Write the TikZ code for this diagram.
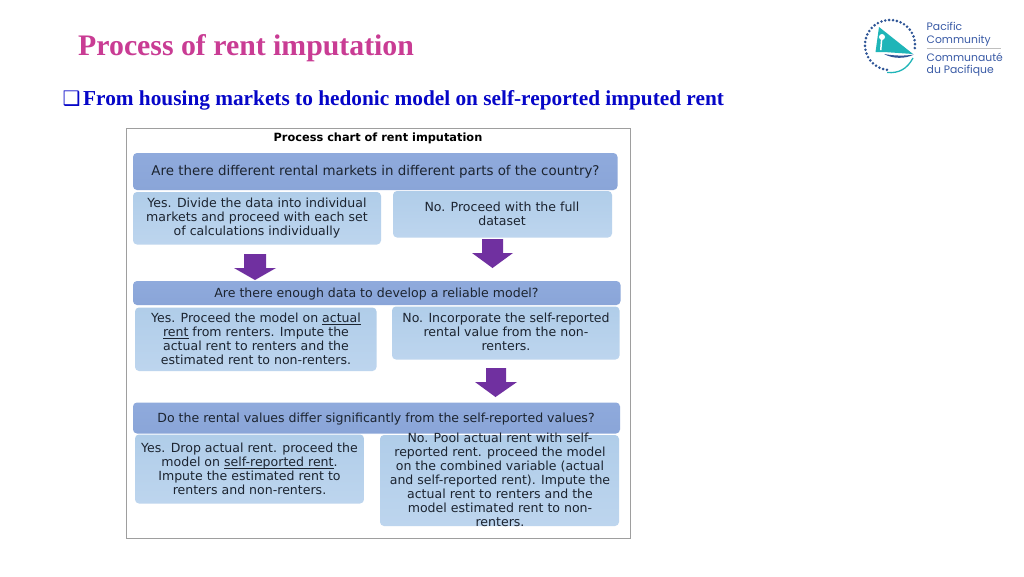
\documentclass[tikz,border=0pt]{standalone}
\usepackage{fontspec}
\setmainfont{DejaVu Sans}
\newfontfamily\serifb[BoldFont={Liberation Serif Bold}]{Liberation Serif}
\newfontfamily\dejav{DejaVu Sans}
\newfontfamily\logofont{Poppins}
\usetikzlibrary{calc}
\definecolor{qtop}{HTML}{8FAADC}
\definecolor{qbot}{HTML}{8AA5D8}
\definecolor{atop}{HTML}{B0CDE9}
\definecolor{abot}{HTML}{BDD5EE}
\definecolor{txt}{HTML}{1C2430}
\definecolor{purp}{HTML}{7030A0}
\definecolor{ttl}{HTML}{C93C94}
\definecolor{subt}{HTML}{0606C8}
\definecolor{teal1}{HTML}{1FB5B8}
\definecolor{navy1}{HTML}{2F5597}
\definecolor{logot}{HTML}{3A5BA6}
\tikzset{
  x=1pt,y=-1pt,
  box/.style={rounded corners=4pt,inner sep=0pt},
  qbox/.style={box,top color=qtop,bottom color=qbot},
  abox/.style={box,top color=atop,bottom color=abot},
  lab/.style={font=\fontsize{12.55}{14}\selectfont,text=txt,align=center,inner sep=0pt},
  qlab/.style={font=\fontsize{12.55}{14}\selectfont,text=txt,align=center,inner sep=0pt},
  blockarrow/.style={fill=purp,draw=none},
}
\newcommand{\blockar}[8]{% shaftL shaftR shaftTop headY headL headR tipX tipY
  \path[blockarrow] (#1,#3) -- (#2,#3) -- (#2,#4) -- (#6,#4) -- (#7,#8) -- (#5,#4) -- (#1,#4) -- cycle;}
\newlength{\ulwd}
\newcommand{\ul}[1]{\settowidth{\ulwd}{#1}\leavevmode\rlap{\rule[-2.2pt]{\ulwd}{0.7pt}}#1}
\begin{document}
\begin{tikzpicture}
\useasboundingbox (0,0) rectangle (1024,576);
\fill[white] (0,0) rectangle (1024,576);
% headings
\node[anchor=base west,inner sep=0pt,text=ttl,font=\serifb\bfseries\fontsize{29.8}{32}\selectfont] (title) at (78,55) {Process of rent imputation};
\node[anchor=base west,inner sep=0pt,text=subt,font=\dejav\bfseries\fontsize{20}{20}\selectfont] (bul) at (62.5,105) {❑};
\node[anchor=base west,inner sep=0pt,text=subt,font=\serifb\bfseries\fontsize{21.3}{24}\selectfont] (sub) at (83,105) {From housing markets to hedonic model on self-reported imputed rent};
% frame
\draw[draw=black!38,line width=0.9pt,fill=white] (126.5,128) rectangle (630,538);
\node[anchor=base,inner sep=0pt,font=\bfseries\fontsize{11.35}{13}\selectfont,text=black] (chart) at (378,141) {Process chart of rent imputation};
% boxes
\path[qbox] (133,153) rectangle (617.5,190);
\node[qlab,font=\fontsize{13.4}{14}\selectfont] (q1) at (375.5,172) {Are there different rental markets in different parts of the country?};
\path[abox] (133,192) rectangle (381,244.5);
\node[lab] (y1) at (257,218) {Yes. Divide the data into individual\\markets and proceed with each set\\of calculations individually};
\path[abox] (393,191) rectangle (612,237.5);
\node[lab] (n1) at (502,213.5) {No. Proceed with the full\\dataset};
\blockar{244}{266}{254}{268}{234}{276}{255}{280}
\blockar{482}{503}{239}{253}{472}{513}{492.5}{268}
\path[qbox] (133,281) rectangle (620.5,305);
\node[qlab] (q2) at (376.5,294) {Are there enough data to develop a reliable model?};
\path[abox] (135,307.5) rectangle (376.5,371);
\node[lab] (y2) at (256,339) {Yes. Proceed the model on \ul{actual}\\\ul{rent} from renters. Impute the\\actual rent to renters and the\\estimated rent to non-renters.};
\path[abox] (392,306.5) rectangle (619.5,359.5);
\node[lab] (n2) at (506,332) {No. Incorporate the self-reported\\rental value from the non-\\renters.};
\blockar{486}{506}{368}{382}{475}{517}{495.5}{397}
\path[qbox] (133,402.5) rectangle (620,433.5);
\node[qlab] (q3) at (376,419) {Do the rental values differ significantly from the self-reported values?};
\path[abox] (135,434.5) rectangle (364,503.5);
\node[lab] (y3) at (249.5,469) {Yes. Drop actual rent. proceed the\\model on \ul{self-reported rent}.\\Impute the estimated rent to\\renters and non-renters.};
\path[abox] (380,435) rectangle (619,526);
\node[lab] (n3) at (500,480) {No. Pool actual rent with self-\\reported rent. proceed the model\\on the combined variable (actual\\and self-reported rent). Impute the\\actual rent to renters and the\\model estimated rent to non-\\renters.};
% logo
\foreach \a in {-7,2,...,265}{
  \fill[navy1] ({890+25*cos(\a)},{45-25*sin(\a)}) circle (1.45);
}
\fill[teal1] (879,27) -- (913,54) -- (884,52) -- (875.5,52) -- cycle;
\fill[white] (881,38) -- (880,50) -- (881.5,50) -- (882.5,38) -- cycle;
\fill[white] (882,37) circle (3);
\fill[navy1] (884,54) .. controls (895,56) and (905,56) .. (914,54.5) .. controls (905,59) and (893,59) .. (884,54) -- cycle;
\draw[teal1,line width=1.3pt] (887,72.5) .. controls (899,73.5) and (907,69) .. (913,58);
\node[anchor=base west,inner sep=0pt,text=logot,font=\logofont\fontsize{10.8}{12}\selectfont] (l1) at (926.5,30) {Pacific};
\node[anchor=base west,inner sep=0pt,text=logot,font=\logofont\fontsize{10.8}{12}\selectfont] (l2) at (926.5,43) {Community};
\draw[black!25,line width=0.6pt] (926.5,48) -- (1001,48);
\node[anchor=base west,inner sep=0pt,text=logot,font=\logofont\fontsize{10.8}{12}\selectfont] (l3) at (926.5,61) {Communauté};
\node[anchor=base west,inner sep=0pt,text=logot,font=\logofont\fontsize{10.8}{12}\selectfont] (l4) at (926.5,73) {du Pacifique};
\end{tikzpicture}
\end{document}
